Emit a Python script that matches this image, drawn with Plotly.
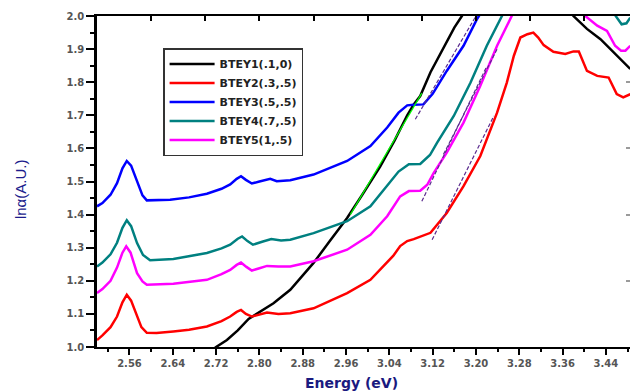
import plotly.graph_objects as go

# ---- absorption curves: ln(alpha) vs photon energy ----
e_btey1 = [2.712, 2.720, 2.740, 2.760, 2.780, 2.796, 2.826, 2.857, 2.880, 2.900, 2.930, 2.962,
           2.990, 3.023, 3.050, 3.073, 3.085, 3.097, 3.116, 3.146, 3.160, 3.174, 3.220, 3.280,
           3.340, 3.380, 3.405, 3.430, 3.454, 3.470, 3.485]
v_btey1 = [0.990, 1.000, 1.021, 1.050, 1.085, 1.102, 1.132, 1.173, 1.215, 1.254, 1.320, 1.390,
           1.460, 1.545, 1.625, 1.700, 1.733, 1.758, 1.830, 1.925, 1.965, 2.000, 2.120, 2.200,
           2.100, 2.000, 1.961, 1.930, 1.890, 1.865, 1.840]

e_btey2 = [2.500, 2.510, 2.525, 2.537, 2.547, 2.555, 2.563, 2.574, 2.582, 2.592, 2.610, 2.641,
           2.670, 2.703, 2.730, 2.746, 2.758, 2.766, 2.775, 2.786, 2.800, 2.814, 2.835, 2.857,
           2.900, 2.962, 3.005, 3.036, 3.047, 3.060, 3.073, 3.085, 3.097, 3.116, 3.146, 3.177,
           3.208, 3.239, 3.257, 3.270, 3.282, 3.295, 3.306, 3.315, 3.325, 3.343, 3.365, 3.380,
           3.390, 3.405, 3.424, 3.445, 3.460, 3.472, 3.485]
v_btey2 = [1.021, 1.035, 1.060, 1.092, 1.135, 1.158, 1.140, 1.092, 1.060, 1.043, 1.042, 1.047,
           1.052, 1.062, 1.078, 1.092, 1.106, 1.112, 1.100, 1.092, 1.097, 1.104, 1.100, 1.102,
           1.117, 1.163, 1.203, 1.254, 1.275, 1.305, 1.320, 1.326, 1.334, 1.345, 1.405, 1.486,
           1.577, 1.708, 1.799, 1.880, 1.935, 1.945, 1.950, 1.935, 1.912, 1.892, 1.885, 1.893,
           1.893, 1.834, 1.819, 1.814, 1.764, 1.754, 1.764]

e_btey3 = [2.500, 2.510, 2.525, 2.537, 2.547, 2.555, 2.563, 2.574, 2.584, 2.592, 2.635, 2.670,
           2.703, 2.730, 2.746, 2.758, 2.766, 2.775, 2.786, 2.800, 2.820, 2.832, 2.857, 2.900,
           2.962, 3.005, 3.036, 3.057, 3.073, 3.085, 3.103, 3.120, 3.146, 3.177, 3.202, 3.240]
v_btey3 = [1.425, 1.435, 1.460, 1.495, 1.540, 1.562, 1.548, 1.500, 1.458, 1.443, 1.445, 1.452,
           1.463, 1.478, 1.491, 1.508, 1.516, 1.505, 1.494, 1.500, 1.508, 1.501, 1.504, 1.521,
           1.562, 1.607, 1.663, 1.708, 1.730, 1.732, 1.733, 1.765, 1.834, 1.910, 1.991, 2.090]

e_btey4 = [2.500, 2.510, 2.525, 2.537, 2.547, 2.555, 2.563, 2.574, 2.585, 2.598, 2.641, 2.703,
           2.730, 2.746, 2.760, 2.768, 2.778, 2.788, 2.805, 2.822, 2.840, 2.857, 2.900, 2.962,
           3.005, 3.036, 3.057, 3.076, 3.097, 3.115, 3.128, 3.159, 3.190, 3.220, 3.248, 3.300,
           3.400, 3.450, 3.458, 3.469, 3.478, 3.485]
v_btey4 = [1.243, 1.255, 1.280, 1.315, 1.360, 1.383, 1.365, 1.314, 1.278, 1.262, 1.266, 1.284,
           1.298, 1.309, 1.327, 1.334, 1.320, 1.309, 1.318, 1.326, 1.322, 1.324, 1.344, 1.380,
           1.425, 1.486, 1.530, 1.552, 1.553, 1.580, 1.617, 1.698, 1.799, 1.910, 2.000, 2.150,
           2.150, 2.030, 2.000, 1.975, 1.978, 1.995]

e_btey5 = [2.500, 2.510, 2.525, 2.537, 2.547, 2.554, 2.562, 2.574, 2.584, 2.592, 2.641, 2.703,
           2.730, 2.746, 2.758, 2.766, 2.776, 2.786, 2.800, 2.814, 2.835, 2.857, 2.900, 2.962,
           3.005, 3.036, 3.060, 3.076, 3.097, 3.110, 3.122, 3.146, 3.177, 3.208, 3.239, 3.266,
           3.320, 3.380, 3.402, 3.424, 3.442, 3.457, 3.468, 3.476, 3.485]
v_btey5 = [1.163, 1.175, 1.200, 1.240, 1.285, 1.304, 1.285, 1.223, 1.198, 1.188, 1.191, 1.203,
           1.220, 1.233, 1.248, 1.255, 1.242, 1.231, 1.238, 1.245, 1.243, 1.243, 1.259, 1.294,
           1.339, 1.395, 1.455, 1.471, 1.472, 1.490, 1.526, 1.587, 1.678, 1.789, 1.910, 2.000,
           2.150, 2.100, 2.000, 1.971, 1.955, 1.910, 1.895, 1.895, 1.910]

# ---- linear extrapolation lines on the absorption edges ----
fit_e_btey1 = [2.968, 3.100]
fit_v_btey1 = [1.400, 1.767]
fit_e_btey2 = [3.119, 3.233]
fit_v_btey2 = [1.324, 1.698]
fit_e_btey3 = [3.088, 3.200]
fit_v_btey3 = [1.688, 2.000]
fit_e_btey4 = [3.140, 3.239]
fit_v_btey4 = [1.582, 1.900]
fit_e_btey5 = [3.100, 3.220]
fit_v_btey5 = [1.440, 1.848]

names = ["BTEY1(.1,0)", "BTEY2(.3,.5)", "BTEY3(.5,.5)", "BTEY4(.7,.5)", "BTEY5(1,.5)"]
colors = ["#000000", "#ff0000", "#0000ff", "#008080", "#ff00ff"]

series = [(e_btey1, v_btey1), (e_btey2, v_btey2), (e_btey3, v_btey3),
          (e_btey4, v_btey4), (e_btey5, v_btey5)]
fits = [(fit_e_btey1, fit_v_btey1), (fit_e_btey2, fit_v_btey2), (fit_e_btey3, fit_v_btey3),
        (fit_e_btey4, fit_v_btey4), (fit_e_btey5, fit_v_btey5)]

X_RANGE = [2.5, 3.4845]
Y_RANGE = [1.0, 2.0]

fig = go.Figure()

for (ex, vy), name, col in zip(series, names, colors):
    fig.add_trace(go.Scatter(x=ex, y=vy, mode="lines", name=name,
                             line=dict(color=col, width=2.5)))

# edge fit lines drawn on the overlay axes (same scale)
for i, (ex, vy) in enumerate(fits):
    if i == 0:
        ln = dict(color="#00ff00", width=1.2)
    else:
        ln = dict(color="#5b2c8f", width=1.2, dash="4px,2px")
    fig.add_trace(go.Scatter(x=ex, y=vy, mode="lines", line=ln, showlegend=False,
                             xaxis="x2", yaxis="y2", hoverinfo="skip"))

tick_font = dict(family="DejaVu Sans", size=10, color="#555555", weight="bold")

fig.update_layout(
    width=630, height=391,
    margin=dict(l=97, r=0, t=16, b=44),
    paper_bgcolor="white", plot_bgcolor="white",
    showlegend=True,
    legend=dict(x=0.124, y=0.903, xanchor="left", yanchor="top",
                bgcolor="white", bordercolor="#333333", borderwidth=1.5,
                font=dict(family="DejaVu Sans", size=11, color="#222222", weight="bold"),
                itemwidth=45, tracegroupgap=0),
    xaxis=dict(range=X_RANGE, showgrid=False, zeroline=False,
               showline=True, linecolor="black", linewidth=2,
               ticks="outside", ticklen=6, tickwidth=2, tickcolor="black",
               tick0=2.56, dtick=0.08, tickformat=".2f", tickfont=tick_font,
               minor=dict(tick0=2.52, dtick=0.04, ticks="outside", ticklen=3,
                          tickwidth=2, tickcolor="black", showgrid=False)),
    yaxis=dict(range=Y_RANGE, showgrid=False, zeroline=False,
               showline=True, linecolor="black", linewidth=2.5,
               ticks="outside", ticklen=8, tickwidth=2, tickcolor="black",
               tick0=1.0, dtick=0.1, tickformat=".1f", tickfont=tick_font,
               minor=dict(dtick=0.05, ticks="outside", ticklen=4,
                          tickwidth=2, tickcolor="black", showgrid=False)),
    xaxis2=dict(range=X_RANGE, overlaying="x", side="top", anchor="y2",
                showgrid=False, zeroline=False, showline=True, linecolor="black",
                linewidth=2, ticks="inside", ticklen=5, tickwidth=2, tickcolor="black",
                tick0=2.5, dtick=0.1, showticklabels=False),
    yaxis2=dict(range=Y_RANGE, overlaying="y", side="right", anchor="x2",
                showgrid=False, zeroline=False, showline=False,
                ticks="inside", ticklen=4, tickwidth=1.5, tickcolor="#9a9a9a",
                tick0=1.0, dtick=0.2, showticklabels=False),
    annotations=[
        dict(text="Energy (eV)", xref="paper", yref="paper", x=0.478, y=-0.109,
             xanchor="center", yanchor="middle", showarrow=False,
             font=dict(family="DejaVu Sans", size=14, color="#1a1a80", weight="bold")),
        dict(text="lnα(A.U.)", xref="paper", yref="paper", x=-0.1445, y=0.477,
             xanchor="center", yanchor="middle", showarrow=False, textangle=-90,
             font=dict(family="Liberation Sans", size=15, color="#1c1c8c")),
    ],
)

fig.write_html("out.html")
